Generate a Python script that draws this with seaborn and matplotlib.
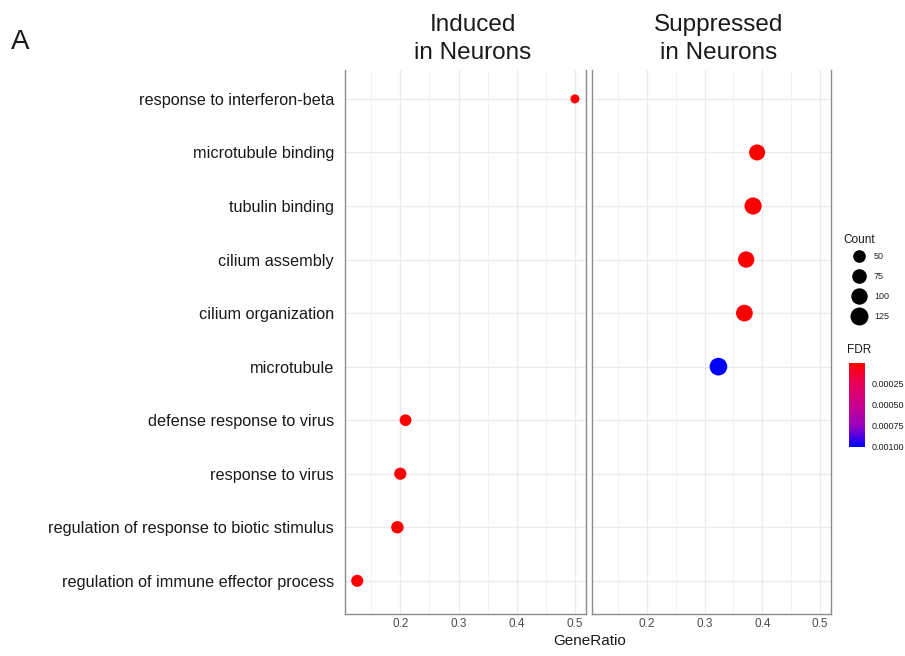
import numpy as np
import pandas as pd
import matplotlib
matplotlib.use("Agg")
import matplotlib.pyplot as plt
import seaborn as sns
from matplotlib.colors import LinearSegmentedColormap, Normalize
from matplotlib.lines import Line2D
import matplotlib.colorbar as mcolorbar

sns.set_style("white")
plt.rcParams['font.family'] = ['Liberation Sans', 'DejaVu Sans']

# ---- data ----
terms = ["response to interferon-beta", "microtubule binding", "tubulin binding",
         "cilium assembly", "cilium organization", "microtubule",
         "defense response to virus", "response to virus",
         "regulation of response to biotic stimulus",
         "regulation of immune effector process"]
panel = ["Induced\nin Neurons", "Suppressed\nin Neurons", "Suppressed\nin Neurons",
         "Suppressed\nin Neurons", "Suppressed\nin Neurons", "Suppressed\nin Neurons",
         "Induced\nin Neurons", "Induced\nin Neurons", "Induced\nin Neurons",
         "Induced\nin Neurons"]
gene_ratio = [0.500, 0.391, 0.384, 0.372, 0.369, 0.324, 0.209, 0.200, 0.195, 0.126]
count = [14, 95, 112, 100, 105, 120, 40, 45, 48, 44]
fdr = [1.5e-5, 2.0e-5, 1.8e-5, 2.5e-5, 2.2e-5, 1.0e-3, 2.0e-5, 2.0e-5, 2.5e-5, 3.0e-5]
panels = ["Induced\nin Neurons", "Suppressed\nin Neurons"]
x_ticks = [0.2, 0.3, 0.4, 0.5]
count_breaks = [50, 75, 100, 125]
fdr_breaks = [0.00025, 0.00050, 0.00075, 0.00100]

df = pd.DataFrame({"term": terms, "panel": panel, "GeneRatio": gene_ratio,
                   "Count": count, "FDR": fdr})
df["ypos"] = [terms.index(t) for t in df["term"]]

cmap = LinearSegmentedColormap.from_list(
    "rb", ["#FF0000", "#E8005A", "#C8008E", "#9A00C0", "#0000FF"])
fnorm = Normalize(min(fdr), max(fdr))
size_norm = (10, 150)
sizes = (37.3, 196.0)

def size_of(c):
    return sizes[0] + (c - size_norm[0]) * (sizes[1] - sizes[0]) / (size_norm[1] - size_norm[0])

fig = plt.figure(figsize=(9.05, 6.56), dpi=100)
bottom = 1 - 614 / 656
top = 1 - 70 / 656
lefts = [345 / 905, 592 / 905]
rights = [586 / 905, 831 / 905]
axes = []
for i, p in enumerate(panels):
    ax = fig.add_axes([lefts[i], bottom, rights[i] - lefts[i], top - bottom])
    axes.append(ax)
    sub = df[df["panel"] == p]
    ax.set_xlim(0.105, 0.519)
    ax.set_ylim(len(terms) - 1 + 0.62, -0.54)
    ax.set_xticks(x_ticks)
    ax.set_xticks([0.15, 0.25, 0.35, 0.45], minor=True)
    ax.set_yticks(range(len(terms)))
    ax.grid(True, which="major", color="#EBEBEB", lw=1.0, zorder=0)
    ax.grid(True, which="minor", axis="x", color="#F2F2F2", lw=0.7, zorder=0)
    ax.set_axisbelow(True)
    sns.scatterplot(data=sub, x="GeneRatio", y="ypos", hue="FDR", palette=cmap,
                    hue_norm=fnorm, size="Count", sizes=sizes, size_norm=size_norm,
                    linewidth=0, legend=False, ax=ax, zorder=3)
    ax.set_xlabel("")
    ax.set_ylabel("")
    ax.tick_params(axis="x", labelsize=8.5, labelcolor="#4D4D4D", length=0, pad=3)
    ax.tick_params(axis="y", length=0)
    if i == 0:
        ax.set_yticklabels(terms, fontsize=11.7, color="#1A1A1A")
        ax.tick_params(axis="y", pad=8)
    else:
        ax.set_yticklabels([])
    for s in ["left", "right", "bottom"]:
        ax.spines[s].set_visible(True)
        ax.spines[s].set_color("#8C8C8C")
        ax.spines[s].set_linewidth(1.0)
    ax.spines["top"].set_visible(False)
    ax.set_title(p, fontsize=17.5, color="#1A1A1A", pad=8, linespacing=1.35,
                 x=0.53)

fig.text(590 / 905, 1 - 641 / 656, "GeneRatio", ha="center", va="center",
         fontsize=11, color="#1A1A1A")
fig.text(11 / 905, 1 - 42 / 656, "A", ha="left", va="center", fontsize=20,
         color="#1A1A1A")

# Count legend
handles = [Line2D([], [], marker="o", linestyle="", color="black",
                  markersize=np.sqrt(size_of(c)), markeredgewidth=0) for c in count_breaks]
leg = fig.legend(handles, [str(c) for c in count_breaks],
                 loc="upper left", bbox_to_anchor=(845 / 905, 1 - 246 / 656),
                 frameon=False, fontsize=6.5,
                 labelspacing=1.22, handletextpad=0.9, borderpad=0.2,
                 handlelength=1.6)
fig.text(843 / 905, 1 - 240 / 656, "Count", ha="left", va="center", fontsize=8.5,
         color="#1A1A1A")

# FDR colorbar
cax = fig.add_axes([849 / 905, 1 - 447 / 656, 16 / 905, 84 / 656])
cb = mcolorbar.ColorbarBase(cax, cmap=cmap, norm=fnorm, orientation="vertical")
cax.invert_yaxis()
cb.set_ticks(fdr_breaks)
cb.set_ticklabels(["0.00025", "0.00050", "0.00075", "0.00100"])
cax.tick_params(labelsize=6.5, length=3, color="white", direction="in",
                pad=5, labelcolor="#1A1A1A")
cb.outline.set_visible(False)
fig.text(847 / 905, 1 - 350 / 656, "FDR", ha="left", va="center", fontsize=8.5,
         color="#1A1A1A")

fig.savefig("out.png", dpi=100)
